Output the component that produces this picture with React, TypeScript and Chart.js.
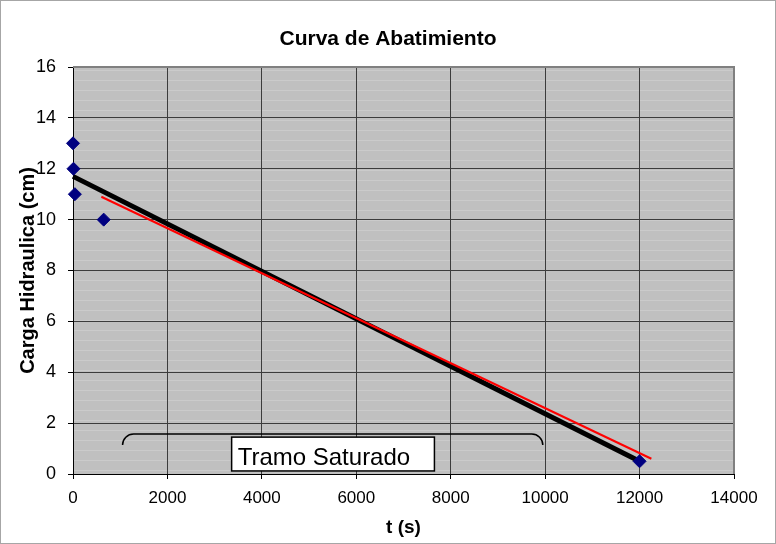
import React, { useEffect, useRef } from "react";
import { Chart, registerables } from "chart.js";

Chart.register(...registerables);

// Observed data (t in seconds, hydraulic head in cm)
const obsTime = [0, 10, 40, 650, 12000];
const obsHead = [13, 12, 11, 10, 0.5];

// Thick black fitted line
const fitTime = [0, 12000];
const fitHead = [11.7, 0.5];

// Thin red trend line
const trendTime = [600, 12250];
const trendHead = [10.9, 0.6];

// Axis ticks
const xTicks = [0, 2000, 4000, 6000, 8000, 10000, 12000, 14000];
const yTicks = [0, 2, 4, 6, 8, 10, 12, 14, 16];

// Annotation: bracket and label
const bracketTime = [1050, 9950];
const bracketHead = [1.57];
const labelText = "Tramo Saturado";
const labelBoxTime = [3360, 7655];
const labelBoxHead = [1.45, 0.12];

const FONT = '"Liberation Sans", Arial, sans-serif';

const decoPlugin = {
  id: "deco",
  beforeDraw(chart: any) {
    const { ctx, chartArea: a } = chart;
    ctx.save();
    ctx.fillStyle = "#c0c0c0";
    ctx.fillRect(a.left, a.top, a.right - a.left, a.bottom - a.top);
    ctx.strokeStyle = "#cbcbcb";
    ctx.lineWidth = 1;
    ctx.beginPath();
    for (let y = a.top + 3.5; y < a.bottom; y += 10) {
      ctx.moveTo(a.left, y);
      ctx.lineTo(a.right, y);
    }
    ctx.stroke();
    ctx.restore();
  },
  afterDraw(chart: any) {
    const { ctx, chartArea: a } = chart;
    const xs = chart.scales.x;
    const ys = chart.scales.y;
    ctx.save();

    // plot border (top and right)
    ctx.strokeStyle = "#808080";
    ctx.lineWidth = 2;
    ctx.beginPath();
    ctx.moveTo(a.left, a.top);
    ctx.lineTo(a.right, a.top);
    ctx.lineTo(a.right, a.bottom);
    ctx.stroke();

    // bracket
    const bx1 = xs.getPixelForValue(bracketTime[0]);
    const bx2 = xs.getPixelForValue(bracketTime[1]);
    const by = ys.getPixelForValue(bracketHead[0]);
    const r = 11;
    ctx.strokeStyle = "#000";
    ctx.lineWidth = 1.5;
    ctx.beginPath();
    ctx.moveTo(bx1, by + r);
    ctx.arcTo(bx1, by, bx1 + r, by, r);
    ctx.lineTo(bx2 - r, by);
    ctx.arcTo(bx2, by, bx2, by + r, r);
    ctx.stroke();

    // label box
    const lx1 = xs.getPixelForValue(labelBoxTime[0]);
    const lx2 = xs.getPixelForValue(labelBoxTime[1]);
    const ly1 = ys.getPixelForValue(labelBoxHead[0]);
    const ly2 = ys.getPixelForValue(labelBoxHead[1]);
    ctx.fillStyle = "#fff";
    ctx.fillRect(lx1, ly1, lx2 - lx1, ly2 - ly1);
    ctx.strokeStyle = "#000";
    ctx.lineWidth = 1.5;
    ctx.strokeRect(lx1, ly1, lx2 - lx1, ly2 - ly1);
    ctx.fillStyle = "#000";
    ctx.font = `24px ${FONT}`;
    ctx.textAlign = "left";
    ctx.textBaseline = "alphabetic";
    ctx.fillText(labelText, lx1 + 6, ly2 - 6);

    // chart title
    ctx.font = `bold 21px ${FONT}`;
    ctx.textAlign = "center";
    ctx.fillText("Curva de Abatimiento", 388, 45);

    // outer border
    ctx.strokeStyle = "#a6a6a6";
    ctx.lineWidth = 1;
    ctx.strokeRect(0.5, 0.5, chart.width - 1, chart.height - 1);
    ctx.restore();
  },
};

export default function App() {
  const ref = useRef<HTMLCanvasElement | null>(null);

  useEffect(() => {
    document.body.style.margin = "0";
    if (!ref.current) return;
    const chart = new Chart(ref.current, {
      type: "scatter",
      data: {
        datasets: [
          {
            label: "Observado",
            data: obsTime.map((t, i) => ({ x: t, y: obsHead[i] })),
            pointStyle: "rectRot",
            pointRadius: 6.5,
            pointBorderWidth: 1,
            backgroundColor: "#000080",
            borderColor: "#000080",
            showLine: false,
            clip: false,
          },
          {
            label: "Tendencia",
            data: trendTime.map((t, i) => ({ x: t, y: trendHead[i] })),
            showLine: true,
            borderColor: "#ff0000",
            borderWidth: 2,
            pointRadius: 0,
            clip: false,
          },
          {
            label: "Ajuste",
            data: fitTime.map((t, i) => ({ x: t, y: fitHead[i] })),
            showLine: true,
            borderColor: "#000000",
            borderWidth: 5,
            pointRadius: 0,
            clip: false,
          },
        ],
      },
      options: {
        responsive: false,
        animation: false,
        layout: { padding: { top: 67, right: 42, left: 0, bottom: 0 } },
        plugins: {
          legend: { display: false },
          tooltip: { enabled: false },
          title: { display: false },
        },
        scales: {
          x: {
            type: "linear",
            min: 0,
            max: 14000,
            afterBuildTicks: (s: any) => {
              s.ticks = xTicks.map((v) => ({ value: v }));
            },
            afterFit: (s: any) => {
              s.height = 70;
            },
            ticks: {
              color: "#000",
              font: { family: FONT, size: 17 },
              padding: 9,
              maxRotation: 0,
              callback: (v: any) => String(v),
            },
            grid: { color: "#3c3c3c", lineWidth: 1, tickLength: 5, tickColor: "#000" },
            border: { color: "#000", width: 1 },
            title: {
              display: true,
              text: "t (s)",
              color: "#000",
              font: { family: FONT, size: 19, weight: "bold" },
              padding: { top: 0, bottom: 5 },
            },
          },
          y: {
            type: "linear",
            min: 0,
            max: 16,
            afterBuildTicks: (s: any) => {
              s.ticks = yTicks.map((v) => ({ value: v }));
            },
            afterFit: (s: any) => {
              s.width = 73;
            },
            ticks: {
              color: "#000",
              font: { family: FONT, size: 18 },
              padding: 12,
              callback: (v: any) => String(v),
            },
            grid: { color: "#3c3c3c", lineWidth: 1, tickLength: 5, tickColor: "#000" },
            border: { color: "#000", width: 1 },
            title: {
              display: true,
              text: "Carga Hidraulica (cm)",
              color: "#000",
              font: { family: FONT, size: 20, weight: "bold" },
              padding: { top: 16, bottom: 0 },
            },
          },
        },
      },
      plugins: [decoPlugin],
    } as any);
    return () => chart.destroy();
  }, []);

  return (
    <div style={{ position: "absolute", left: 0, top: 0, width: 776, height: 544 }}>
      <canvas ref={ref} width={776} height={544} style={{ display: "block", width: 776, height: 544 }} />
    </div>
  );
}
